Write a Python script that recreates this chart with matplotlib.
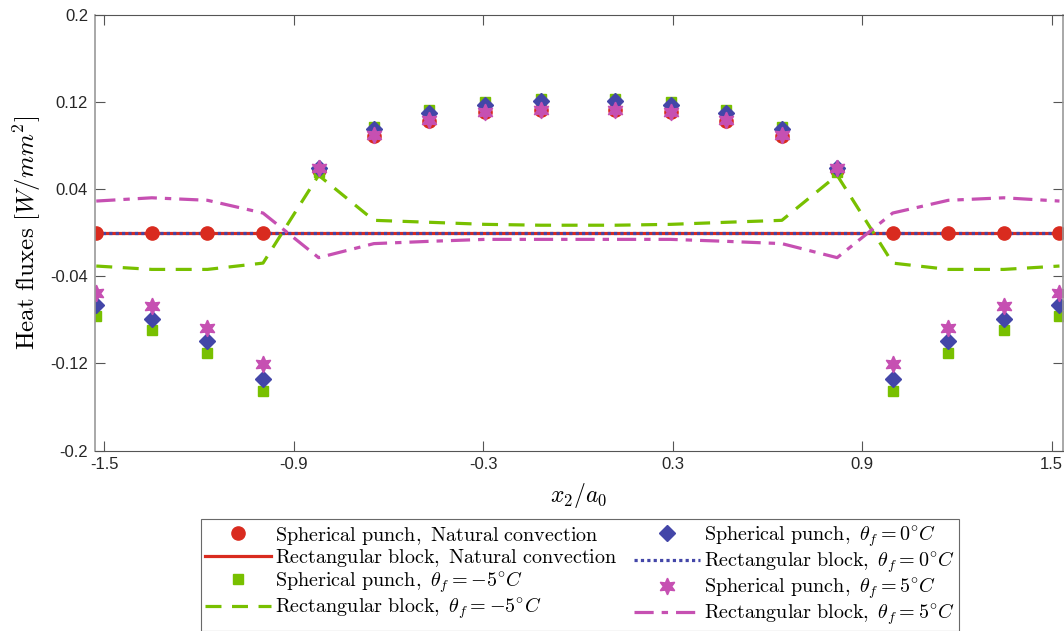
import numpy as np
import matplotlib
matplotlib.use('Agg')
import matplotlib.pyplot as plt

plt.rcParams['mathtext.fontset'] = 'cm'

# node positions along x2/a0 (one half, mirrored below)
x_half = [0.118, 0.294, 0.470, 0.646, 0.821, 0.997, 1.173, 1.349, 1.525]

# spherical punch, values from centre outwards
sph_nat = [0.113, 0.111, 0.103, 0.089, 0.0575, 0.0, 0.0, 0.0, 0.0]
sph_m5 = [0.1228, 0.120, 0.1126, 0.0975, 0.056, -0.1455, -0.110, -0.0897, -0.076]
sph_0 = [0.121, 0.117, 0.110, 0.095, 0.060, -0.134, -0.0995, -0.079, -0.066]
sph_p5 = [0.1133, 0.111, 0.1034, 0.0897, 0.060, -0.1203, -0.0872, -0.0676, -0.0553]

# rectangular block, values from centre outwards
rect_nat = [0.0, 0.0, 0.0, 0.0, 0.0, 0.0, 0.0, 0.0, 0.0]
rect_m5 = [0.007, 0.0078, 0.0097, 0.0115, 0.0529, -0.0278, -0.0336, -0.0336, -0.0305]
rect_0 = [0.0, 0.0, 0.0, 0.0, 0.0, 0.0, 0.0, 0.0, 0.0]
rect_p5 = [-0.006, -0.006, -0.0078, -0.0099, -0.0228, 0.0182, 0.0299, 0.0322, 0.0292]


def mirror(v, sign=1):
    v = np.array(v)
    return np.concatenate([sign * v[::-1], v])


x = mirror(x_half, -1)

red = '#d92b1f'
green = '#78c000'
blue = '#4346a8'
mag = '#c650b2'

fig = plt.figure(figsize=(10.64, 6.31), dpi=100)
ax = fig.add_axes([0.0893, 0.286, 0.9097, 0.690])

l_rn, = ax.plot(x, mirror(rect_nat), '-', color=red, lw=2.3,
                label=r'$\mathrm{Rectangular\ block,\ Natural\ convection}$')
l_r0, = ax.plot(x, mirror(rect_0), color=blue, lw=2.3, linestyle=(0, (1, 1)),
                label=r'$\mathrm{Rectangular\ block,}\ \theta_f=0^{\circ}C$')
l_rm, = ax.plot(x, mirror(rect_m5), color=green, lw=2.3, linestyle=(0, (5, 3.3)),
                label=r'$\mathrm{Rectangular\ block,}\ \theta_f=-5^{\circ}C$')
l_rp, = ax.plot(x, mirror(rect_p5), color=mag, lw=2.3,
                linestyle=(0, (6, 2.5, 2, 2.5)),
                label=r'$\mathrm{Rectangular\ block,}\ \theta_f=5^{\circ}C$')

m_n, = ax.plot(x, mirror(sph_nat), 'o', color=red, ms=9.5, ls='none',
               label=r'$\mathrm{Spherical\ punch,\ Natural\ convection}$')
m_m, = ax.plot(x, mirror(sph_m5), 's', color=green, ms=7.5, ls='none',
               label=r'$\mathrm{Spherical\ punch,}\ \theta_f=-5^{\circ}C$')
m_0, = ax.plot(x, mirror(sph_0), 'D', color=blue, ms=8, ls='none',
               label=r'$\mathrm{Spherical\ punch,}\ \theta_f=0^{\circ}C$')
m_p, = ax.plot(x, mirror(sph_p5), marker=(6, 1, 0), color=mag, ms=12, ls='none',
               label=r'$\mathrm{Spherical\ punch,}\ \theta_f=5^{\circ}C$')

ax.set_xlim(-1.529, 1.536)
ax.set_ylim(-0.2, 0.2)
ax.set_xticks([-1.5, -0.9, -0.3, 0.3, 0.9, 1.5])
ax.set_xticklabels(['-1.5', '-0.9', '-0.3', '0.3', '0.9', '1.5'])
ax.set_yticks([-0.2, -0.12, -0.04, 0.04, 0.12, 0.2])
ax.set_yticklabels(['-0.2', '-0.12', '-0.04', '0.04', '0.12', '0.2'])
ax.tick_params(direction='in', length=7, width=0.8, top=True, right=True,
               labelsize=12, colors='#555555', labelcolor='#262626', pad=5)
for lab in ax.get_xticklabels() + ax.get_yticklabels():
    lab.set_family('Liberation Sans')
for s in ['top', 'bottom']:
    ax.spines[s].set_color('#555555')
for s in ['left', 'right']:
    ax.spines[s].set_color('#999999')
    ax.spines[s].set_linewidth(1.2)

ax.set_xlabel(r'$x_2/a_0$', fontsize=17, labelpad=6)
ax.set_ylabel(r'$\mathrm{Heat\ fluxes}\ [W/mm^2]$', fontsize=18, labelpad=5)

handles = [m_n, l_rn, m_m, l_rm, m_0, l_r0, m_p, l_rp]
leg = fig.legend(handles=handles, ncol=2, loc='upper center',
                 bbox_to_anchor=(0.545, 0.177), fontsize=14.5, frameon=True,
                 fancybox=False, edgecolor='#444444', handlelength=3.3,
                 handletextpad=0.2, columnspacing=0.8, labelspacing=0.02,
                 borderpad=0.2, borderaxespad=0)
leg.get_frame().set_linewidth(0.8)

fig.savefig('out.png', dpi=100)
